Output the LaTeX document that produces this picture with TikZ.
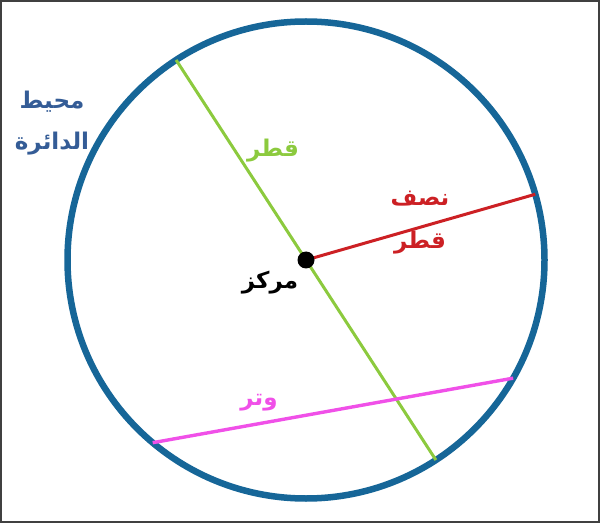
\documentclass[tikz,border=0pt]{standalone}
\usepackage{fontspec}
\newfontfamily\arabicfont[Script=Arabic]{DejaVu Sans}
\TeXXeTstate=1
\usetikzlibrary{positioning, calc}

\definecolor{rimblue}{RGB}{22,102,152}
\definecolor{textblue}{RGB}{52,92,150}
\definecolor{diamgreen}{RGB}{140,202,62}
\definecolor{radred}{RGB}{204,32,36}
\definecolor{chordpink}{RGB}{240,80,232}

\tikzset{
    word/.style={font=\arabicfont\bfseries\fontsize{23}{26}\selectfont, inner sep=0pt},
}

\begin{document}
\begin{tikzpicture}[x=1pt, y=1pt, node distance=10pt]
    \useasboundingbox (0,0) rectangle (600,523);
    \draw[black!75, line width=2pt] (1,1) rectangle (599,522);

    % الدائرة والمركز
    \coordinate (O) at (306,263);
    \draw[rimblue, line width=6.5pt] (O) circle (238.5);

    % نقاط على المحيط
    \coordinate (D1) at ($(O)+(123:238.5)$);
    \coordinate (D2) at ($(O)+(-57:238.5)$);
    \coordinate (R1) at ($(O)+(16:238.5)$);
    \coordinate (C1) at ($(O)+(230:238.5)$);
    \coordinate (C2) at ($(O)+(-29.7:238.5)$);

    \draw[diamgreen, line width=3pt] (D1) -- (D2);
    \draw[radred, line width=3pt] (O) -- (R1);
    \draw[chordpink, line width=3.4pt] (C1) -- (C2);
    \node[circle, fill=black, minimum size=17pt, inner sep=0pt] (centre) at (O) {};

    % الكلمات
    \node[word, textblue]   (muhit)   at (52,421)  {\beginR محيط\endR};
    \node[word, textblue, below=42pt of muhit.center, anchor=center] (daira) {\beginR الدائرة\endR};
    \node[word, diamgreen]  (qutr)    at (273,372) {\beginR قطر\endR};
    \node[word, radred]     (nisf)    at (420,324) {\beginR نصف\endR};
    \node[word, radred, below=44pt of nisf.center, anchor=center] (nisfqutr) {\beginR قطر\endR};
    \node[word, black]      (markaz)  at (270,240) {\beginR مركز\endR};
    \node[word, chordpink]  (watar)   at (259,120) {\beginR وتر\endR};
\end{tikzpicture}
\end{document}
